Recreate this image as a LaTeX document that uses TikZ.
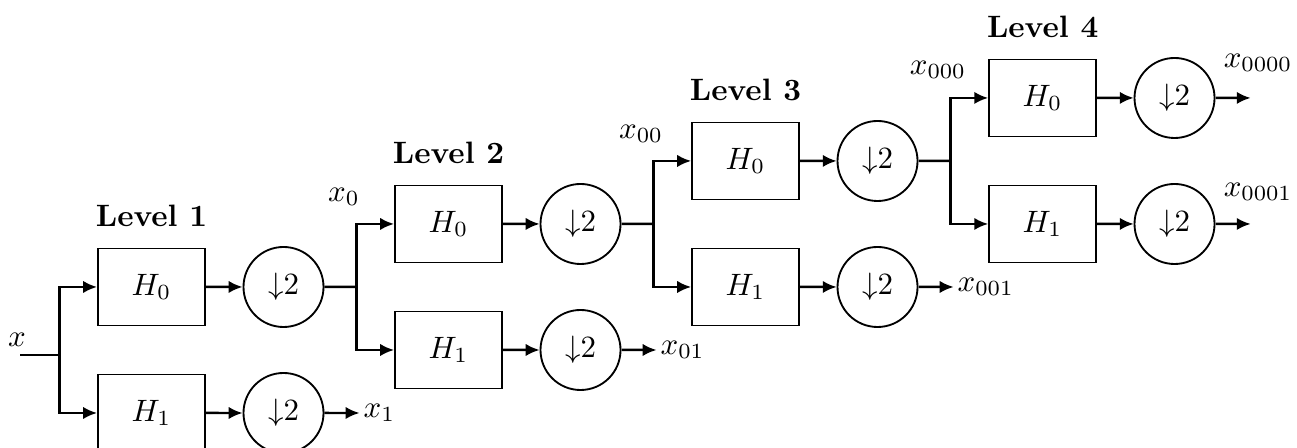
\documentclass[tikz,border=0pt]{standalone}
\usepackage{amsmath}
\usepackage{tikz}
\usetikzlibrary{positioning, arrows.meta}

\begin{document}
\begin{tikzpicture}[
    semithick,
    filt/.style={rectangle, draw, minimum width=1.216cm, minimum height=0.875cm},
    down/.style={circle, draw, minimum size=0.909cm, inner sep=0pt},
    arr/.style={thick, -{Latex[length=4.5pt,width=4pt]}},
    wire/.style={thick},
    lvl/.style={label distance=3pt},
    scale=1.136
]
\useasboundingbox (0,0) rectangle (12.97,4.48);

% level 1
\node[filt, label={[lvl]above:{\textbf{Level 1}}}] (lp1) at (1.515,1.61) {$H_0$};
    \node[filt] (hp1) at (1.515,0.35) {$H_1$};
    \node[down] (dl1) at (2.835,1.61) {${\downarrow}2$};
    \node[down] (dh1) at (2.835,0.35) {${\downarrow}2$};

% level 2
\node[filt, label={[lvl]above:{\textbf{Level 2}}}] (lp2) at (4.485,2.24) {$H_0$};
    \node[filt] (hp2) at (4.485,0.98) {$H_1$};
    \node[down] (dl2) at (5.805,2.24) {${\downarrow}2$};
    \node[down] (dh2) at (5.805,0.98) {${\downarrow}2$};

% level 3
\node[filt, label={[lvl]above:{\textbf{Level 3}}}] (lp3) at (7.455,2.87) {$H_0$};
    \node[filt] (hp3) at (7.455,1.61) {$H_1$};
    \node[down] (dl3) at (8.775,2.87) {${\downarrow}2$};
    \node[down] (dh3) at (8.775,1.61) {${\downarrow}2$};

% level 4
\node[filt, label={[lvl]above:{\textbf{Level 4}}}] (lp4) at (10.425,3.50) {$H_0$};
    \node[filt] (hp4) at (10.425,2.24) {$H_1$};
    \node[down] (dl4) at (11.745,3.50) {${\downarrow}2$};
    \node[down] (dh4) at (11.745,2.24) {${\downarrow}2$};

% branch points and free ends
\coordinate (xin) at (0.20,0.93);
    \coordinate (sp1) at (0.595,0.98);
    \coordinate (sp2) at (3.565,1.61);
    \coordinate (sp3) at (6.535,2.24);
    \coordinate (sp4) at (9.505,2.87);
    \coordinate (out1) at (3.595,0.35);
    \coordinate (out2) at (6.565,0.98);
    \coordinate (out3) at (9.535,1.61);
    \coordinate (out4) at (12.505,2.24);
    \coordinate (out5) at (12.505,3.50);

% signal names
\node (nx) at (0.17,1.08) {$x$};
    \node (nx0) at (3.44,2.51) {$x_0$};
    \node (nx00) at (6.41,3.14) {$x_{00}$};
    \node (nx000) at (9.38,3.78) {$x_{000}$};
    \node[anchor=west, inner sep=1pt] (nx1) at (out1) {$x_1$};
    \node[anchor=west, inner sep=1pt] (nx01) at (out2) {$x_{01}$};
    \node[anchor=west, inner sep=1pt] (nx001) at (out3) {$x_{001}$};
    \node (nx0000) at (12.58,3.85) {$x_{0000}$};
    \node (nx0001) at (12.58,2.56) {$x_{0001}$};

\draw[wire] (xin) -- (xin -| sp1);
    \draw[wire] (dl1) -- (sp2);
    \draw[wire] (dl2) -- (sp3);
    \draw[wire] (dl3) -- (sp4);

\draw[arr] (sp1) |- (lp1.west);
    \draw[arr] (sp1) |- (hp1.west);
    \draw[arr] (sp2) |- (lp2.west);
    \draw[arr] (sp2) |- (hp2.west);
    \draw[arr] (sp3) |- (lp3.west);
    \draw[arr] (sp3) |- (hp3.west);
    \draw[arr] (sp4) |- (lp4.west);
    \draw[arr] (sp4) |- (hp4.west);

\draw[arr] (lp1) -- (dl1);
    \draw[arr] (hp1) -- (dh1);
    \draw[arr] (lp2) -- (dl2);
    \draw[arr] (hp2) -- (dh2);
    \draw[arr] (lp3) -- (dl3);
    \draw[arr] (hp3) -- (dh3);
    \draw[arr] (lp4) -- (dl4);
    \draw[arr] (hp4) -- (dh4);

\draw[arr] (dh1) -- (out1);
    \draw[arr] (dh2) -- (out2);
    \draw[arr] (dh3) -- (out3);
    \draw[arr] (dh4) -- (out4);
    \draw[arr] (dl4) -- (out5);
    
\end{tikzpicture}
\end{document}
